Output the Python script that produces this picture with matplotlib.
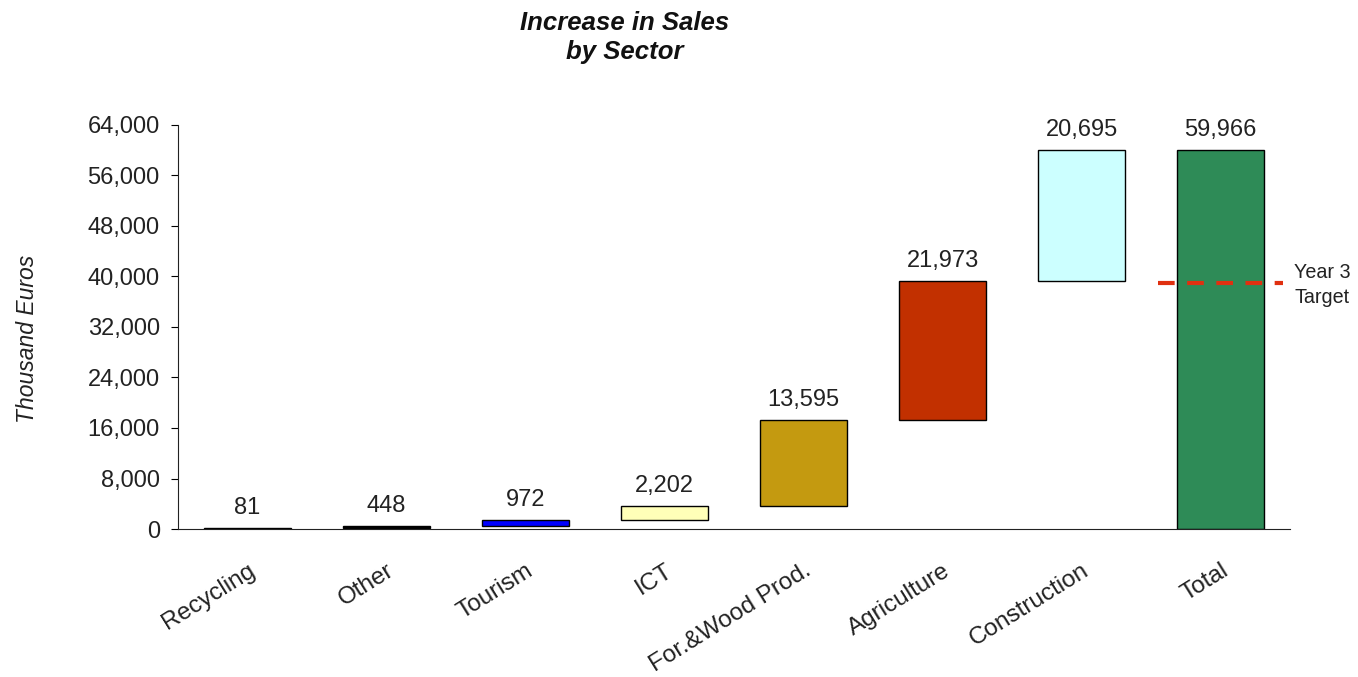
import matplotlib
matplotlib.use("Agg")
import matplotlib.pyplot as plt
import numpy as np

categories = ["Recycling", "Other", "Tourism", "ICT", "For.&Wood Prod.",
              "Agriculture", "Construction", "Total"]
increments = [81, 448, 972, 2202, 13595, 21973, 20695]
total = 59966
colors = ["#FFFFFF", "#000000", "#0000FF", "#FFFFB8", "#C49A10",
          "#C23000", "#CCFFFF", "#2E8B57"]
target = 39000
yticks = [0, 8000, 16000, 24000, 32000, 40000, 48000, 56000, 64000]

plt.rcParams['font.family'] = ['Liberation Sans', 'DejaVu Sans']

fig = plt.figure(figsize=(13.58, 6.77), dpi=100)
ax = fig.add_axes([0.131, 0.2186, 0.819, 0.5968])

bottoms = list(np.concatenate([[0], np.cumsum(increments)[:-1]])) + [0]
heights = increments + [total]
labels = increments + [total]
x = np.arange(len(categories))
ax.bar(x, heights, bottom=bottoms, width=0.63, color=colors,
       edgecolor="black", linewidth=1.0, zorder=2)

for xi, b, h, lab in zip(x, bottoms, heights, labels):
    ax.annotate(f"{lab:,}", (xi, b + h), xytext=(0, 6.5), textcoords="offset points",
                ha="center", va="bottom", fontsize=17, color="#222222")

ax.hlines(target, 6.55, 7.45, colors="#E03010", linestyles=(0, (4, 3)),
          linewidth=3, zorder=3, clip_on=False)
ax.annotate("Year 3\nTarget", (7.5, target), xytext=(3, -1.5), textcoords="offset points",
            ha="left", va="center", fontsize=14.2, color="#222222", linespacing=1.45)

ax.set_xlim(-0.5, 7.5)
ax.set_ylim(0, 64000)
ax.set_yticks(yticks)
ax.set_yticklabels([f"{v:,}" for v in yticks], fontsize=17, color="#222222")
ax.set_xticks(x)
ax.set_xticklabels(categories, rotation=32, ha="right", rotation_mode="anchor",
                   fontsize=17.5, color="#222222")
ax.tick_params(axis="x", length=0, pad=22)
ax.tick_params(axis="y", length=5, direction="out", pad=8)
for s in ["top", "right"]:
    ax.spines[s].set_visible(False)
ax.spines["left"].set_color("#222222")
ax.spines["bottom"].set_color("#222222")

ax.set_ylabel("Thousand Euros", fontsize=16.5, style="italic", color="#222222")
ax.yaxis.set_label_coords(-0.125, 0.47)
fig.text(0.46, 0.945, "Increase in Sales\nby Sector", ha="center", va="center",
         fontsize=18.5, fontweight="bold", style="italic", color="#111111", linespacing=1.25)

fig.savefig("out.png", dpi=100)
